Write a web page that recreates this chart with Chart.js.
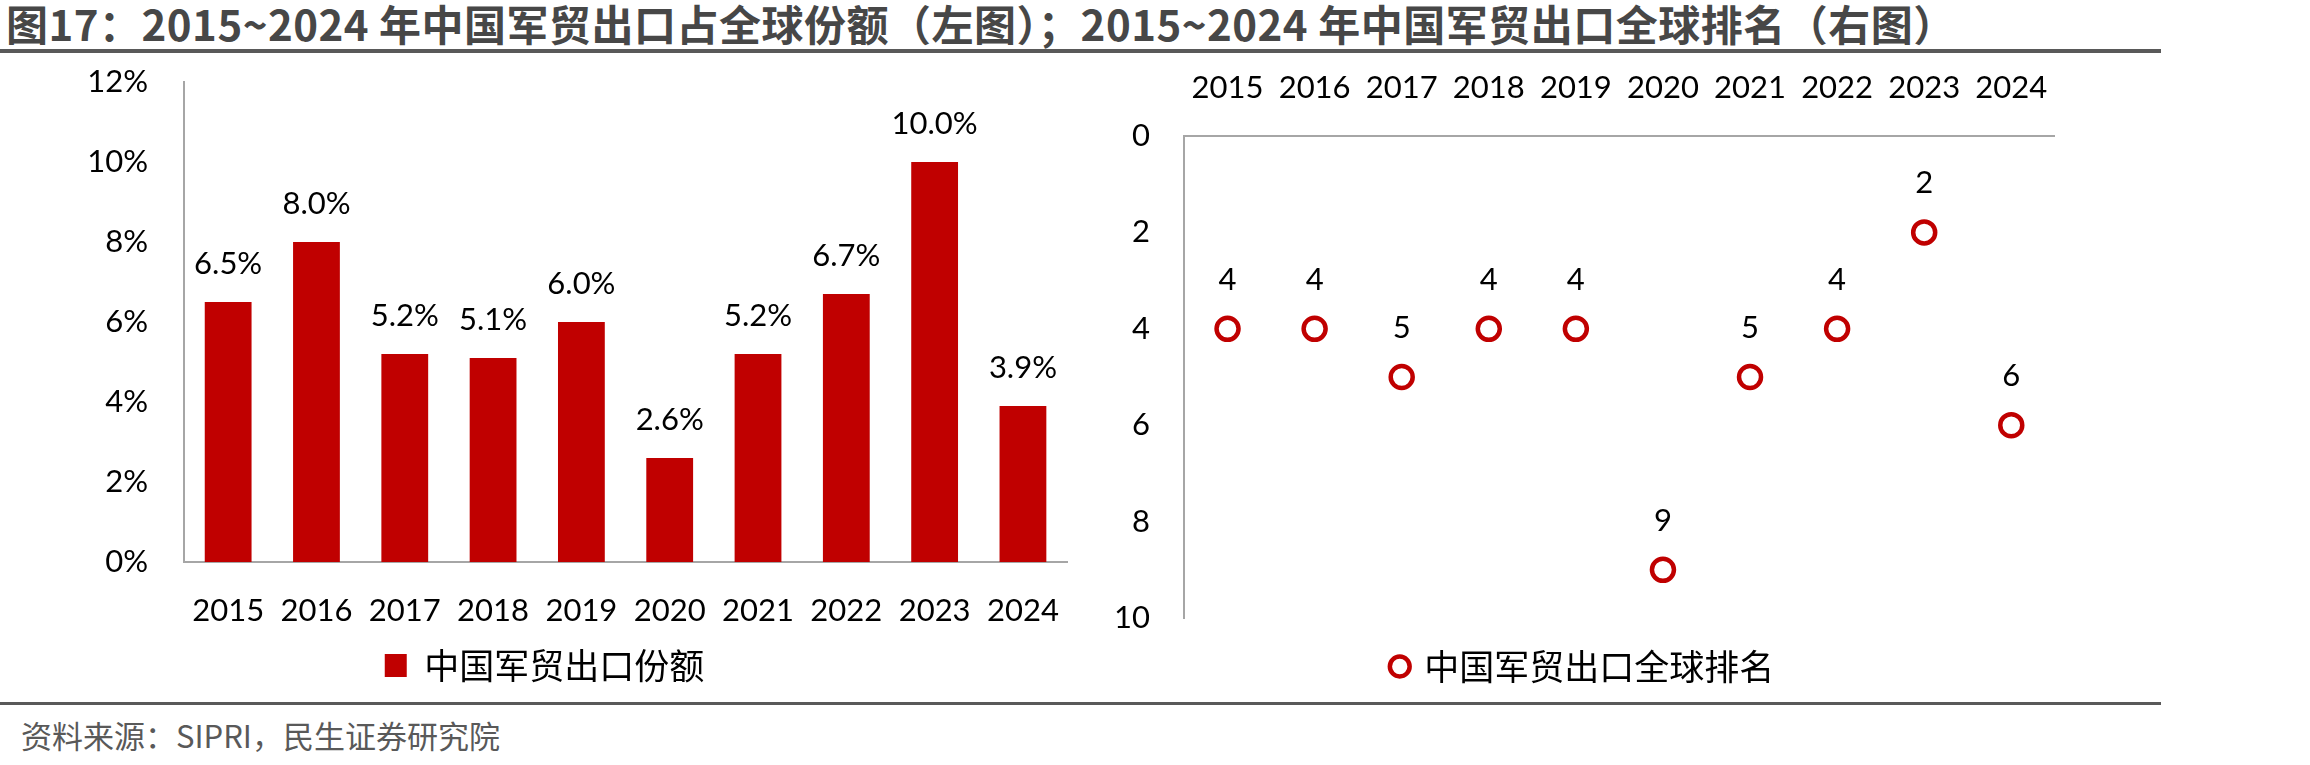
<!DOCTYPE html>
<html>
<head>
<meta charset="utf-8">
<script src="https://cdn.jsdelivr.net/npm/chart.js@4.4.1/dist/chart.umd.min.js"></script>
<style>
  body { margin: 0; background: #fff; width: 2310px; height: 765px; position: relative; overflow: hidden; font-family: "Noto Sans CJK SC", sans-serif; }
  #title { position: absolute; left: 6px; top: -2px; font-size: 42px; letter-spacing: 0.5px; font-weight: bold; color: #474747; line-height: 50px; white-space: nowrap; }
  #topline { position: absolute; left: 0; top: 49px; width: 2161px; height: 4px; background: #595959; }
  #botline { position: absolute; left: 0; top: 702px; width: 2161px; height: 3px; background: #595959; }
  #source { position: absolute; left: 21px; top: 716px; font-size: 31px; color: #595959; line-height: 38px; white-space: nowrap; }
  #c1 { position: absolute; left: 0; top: 56px; }
  #c2 { position: absolute; left: 1090px; top: 56px; }
</style>
</head>
<body>
<div id="title">图17：2015~2024 年中国军贸出口占全球份额（左图）；2015~2024 年中国军贸出口全球排名（右图）</div>
<div id="topline"></div>
<canvas id="c1" width="1090" height="644"></canvas>
<canvas id="c2" width="987" height="644"></canvas>
<div id="botline"></div>
<div id="source">资料来源：SIPRI，民生证券研究院</div>
<script>
// years on both charts
var years = ['2015', '2016', '2017', '2018', '2019', '2020', '2021', '2022', '2023', '2024'];

// China's share of global arms exports, %
var shareValues = [6.5, 8.0, 5.2, 5.1, 6.0, 2.6, 5.2, 6.7, 10.0, 3.9];

// China's global rank in arms exports
var rankValues = [4, 4, 5, 4, 4, 9, 5, 4, 2, 6];

var tickFont = { family: 'Lato', size: 31 };
var legendFont = { family: 'Noto Sans CJK SC', size: 35 };
var red = '#C00000';
var axisGray = '#A6A6A6';

// draws the value above each mark, from the element positions
function valueLabels(id, offset, fmt) {
    return {
        id: id,
        afterDatasetsDraw: function(chart) {
            var ctx = chart.ctx;
            var meta = chart.getDatasetMeta(0);
            var data = chart.data.datasets[0].data;
            ctx.save();
            ctx.font = '31px Lato';
            ctx.fillStyle = '#000';
            ctx.textAlign = 'center';
            ctx.textBaseline = 'middle';
            meta.data.forEach(function(el, i) {
                ctx.fillText(fmt(data[i]), el.x, el.y - offset);
            });
            ctx.restore();
        }
    };
}

// Share chart (left)
var ctx1 = document.getElementById('c1').getContext('2d');
var shareChart = new Chart(ctx1, {
    type: 'bar',
    data: {
        labels: years,
        datasets: [{
            label: '中国军贸出口份额',
            data: shareValues,
            backgroundColor: red,
            barPercentage: 0.53,
            categoryPercentage: 1
        }]
    },
    options: {
        responsive: false,
        animation: false,
        devicePixelRatio: 1,
        layout: { padding: { left: 21, right: 22, top: 26, bottom: 7 } },
        plugins: {
            legend: {
                position: 'bottom',
                labels: { font: legendFont, color: '#000', boxWidth: 22, boxHeight: 23, padding: 10 }
            },
            tooltip: { enabled: false }
        },
        scales: {
            x: {
                grid: { display: false, drawTicks: false },
                border: { color: axisGray, width: 2 },
                ticks: { font: tickFont, color: '#000', padding: 30, maxRotation: 0, autoSkip: false },
                afterFit: function(s) { s.height = 76; }
            },
            y: {
                min: 0,
                max: 12,
                grid: { display: false, drawTicks: false },
                border: { color: axisGray, width: 2 },
                ticks: {
                    stepSize: 2, font: tickFont, color: '#000', padding: 36,
                    callback: function(v) { return v + '%'; }
                },
                afterFit: function(s) {
                    s.width = 163;
                    s.paddingTop = 0;
                    s.paddingBottom = 0;
                }
            }
        }
    },
    plugins: [valueLabels('shareLabels', 38, function(v) { return v.toFixed(1) + '%'; })]
});

// Rank chart (right)
var ctx2 = document.getElementById('c2').getContext('2d');
var rankChart = new Chart(ctx2, {
    type: 'line',
    data: {
        labels: years,
        datasets: [{
            label: '中国军贸出口全球排名',
            data: rankValues,
            showLine: false,
            pointStyle: 'circle',
            pointRadius: 11,
            pointBorderWidth: 4.5,
            pointBorderColor: red,
            pointBackgroundColor: '#fff',
            borderColor: red,
            backgroundColor: '#fff',
            borderWidth: 4.5
        }]
    },
    options: {
        responsive: false,
        animation: false,
        devicePixelRatio: 1,
        layout: { padding: { left: 12, right: 12, top: 0, bottom: 6 } },
        plugins: {
            legend: {
                position: 'bottom',
                labels: { font: legendFont, color: '#000', usePointStyle: true, boxWidth: 14, boxHeight: 14, padding: 31 }
            },
            tooltip: { enabled: false }
        },
        scales: {
            x: {
                position: 'top',
                offset: true,
                grid: { display: false, drawTicks: false },
                border: { color: axisGray, width: 2 },
                ticks: { font: tickFont, color: '#000', padding: 29, maxRotation: 0, autoSkip: false },
                afterFit: function(s) { s.height = 80; }
            },
            y: {
                reverse: true,
                min: 0,
                max: 10,
                grid: { display: false, drawTicks: false },
                border: { color: axisGray, width: 2 },
                ticks: { stepSize: 2, font: tickFont, color: '#000', padding: 34 },
                afterFit: function(s) {
                    s.width = 82;
                    s.paddingTop = 0;
                    s.paddingBottom = 0;
                }
            }
        }
    },
    plugins: [valueLabels('rankLabels', 49, function(v) { return String(v); })]
});
</script>
</body>
</html>
